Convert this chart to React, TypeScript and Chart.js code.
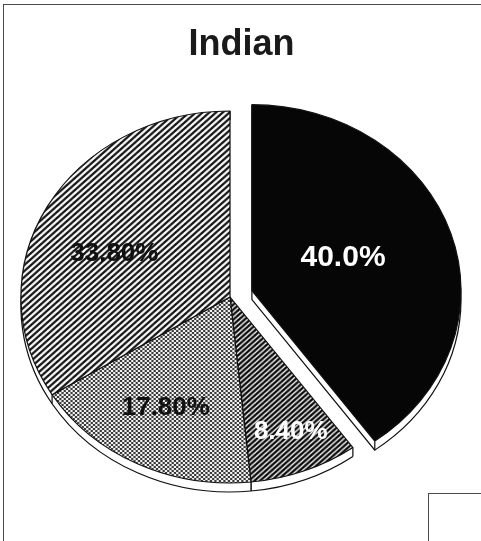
import React, { useEffect, useRef } from "react";
import { Chart, registerables } from "chart.js";

Chart.register(...registerables);

// ---- data ----
const chartTitle = "Indian";
const categories = ["Segment 1", "Segment 2", "Segment 3", "Segment 4"];
const shares = [40.0, 8.4, 17.8, 33.8];
const valueLabels = ["40.0%", "8.40%", "17.80%", "33.80%"];

// ---- styling config ----
const X_STRETCH = 1.124; // pie drawn as an ellipse (tilted look)
const DEPTH = 9; // 3D rim thickness
const EXPLODE_INDEX = 0;
const EXPLODE_DIST = 20.5;
const labelRadial = [0.47, 0.78, 0.67, 0.6];
const labelAngleShift = [-4, -1, 1, -6.4];
const labelFontSize = [30, 26, 26, 26];
const labelColors = ["#ffffff", "#ffffff", "#111111", "#111111"];

function makePattern(kind: string): CanvasPattern | string {
  const c = document.createElement("canvas");
  const g = c.getContext("2d");
  if (!g) return "#888";
  if (kind === "light") {
    const s = 6;
    c.width = s; c.height = s;
    g.fillStyle = "#ffffff"; g.fillRect(0, 0, s, s);
    g.strokeStyle = "#111111"; g.lineWidth = 2.1;
    g.beginPath();
    g.moveTo(-1, s + 1); g.lineTo(s + 1, -1);
    g.moveTo(-1, 1); g.lineTo(1, -1);
    g.moveTo(s - 1, s + 1); g.lineTo(s + 1, s - 1);
    g.stroke();
  } else if (kind === "dense") {
    const s = 5;
    c.width = s; c.height = s;
    g.fillStyle = "#0d0d0d"; g.fillRect(0, 0, s, s);
    g.strokeStyle = "#f2f2f2"; g.lineWidth = 1.3;
    g.beginPath();
    g.moveTo(-1, s + 1); g.lineTo(s + 1, -1);
    g.moveTo(-1, 1); g.lineTo(1, -1);
    g.moveTo(s - 1, s + 1); g.lineTo(s + 1, s - 1);
    g.stroke();
  } else {
    const s = 4;
    c.width = s; c.height = s;
    g.fillStyle = "#f2f2f2"; g.fillRect(0, 0, s, s);
    g.fillStyle = "#3a3a3a";
    g.fillRect(0, 0, 2, 2);
    g.fillRect(2, 2, 2, 2);
  }
  return g.createPattern(c, "repeat") || "#888";
}

function slicePath(ctx: CanvasRenderingContext2D, x: number, y: number, r: number, a0: number, a1: number) {
  ctx.beginPath();
  ctx.moveTo(x, y);
  ctx.arc(x, y, r, a0, a1);
  ctx.closePath();
}

export default function App() {
  const canvasRef = useRef<HTMLCanvasElement | null>(null);

  useEffect(() => {
    const canvas = canvasRef.current;
    if (!canvas) return;

    const fills = ["#060606", makePattern("dense"), makePattern("checker"), makePattern("light")];

    const pieCenter = (chart: any) => ({
      cx: (chart.chartArea.left + chart.chartArea.right) / 2,
      cy: (chart.chartArea.top + chart.chartArea.bottom) / 2,
    });

    const explodePlugin = {
      id: "explode",
      afterUpdate(chart: any) {
        const el = chart.getDatasetMeta(0).data[EXPLODE_INDEX];
        if (!el) return;
        const mid = (el.startAngle + el.endAngle) / 2;
        el.x += Math.cos(mid) * EXPLODE_DIST;
        el.y += Math.sin(mid) * EXPLODE_DIST;
      },
    };

    const depthPlugin = {
      id: "depth",
      beforeDatasetsDraw(chart: any) {
        const ctx: CanvasRenderingContext2D = chart.ctx;
        const { cx, cy } = pieCenter(chart);
        ctx.save();
        ctx.translate(cx, cy);
        ctx.scale(X_STRETCH, 1);
        ctx.translate(-cx, -cy);
        const els = chart.getDatasetMeta(0).data;
        els.forEach((el: any, i: number) => {
          const { x, y, startAngle, endAngle, outerRadius } = el;
          ctx.fillStyle = "#ffffff";
          for (let d = DEPTH; d >= 1; d--) {
            slicePath(ctx, x, y + d, outerRadius, startAngle, endAngle);
            ctx.fill();
          }
          ctx.strokeStyle = "#111111";
          ctx.lineWidth = 1.1;
          if (i === EXPLODE_INDEX) {
            slicePath(ctx, x, y + DEPTH, outerRadius, startAngle, endAngle);
            ctx.stroke();
          } else {
            ctx.beginPath();
            ctx.arc(x, y + DEPTH, outerRadius, startAngle, endAngle);
            ctx.stroke();
          }
          ctx.beginPath();
          for (const a of [startAngle, endAngle]) {
            const px = x + Math.cos(a) * outerRadius;
            const py = y + Math.sin(a) * outerRadius;
            ctx.moveTo(px, py);
            ctx.lineTo(px, py + DEPTH);
          }
          ctx.stroke();
        });
      },
      afterDatasetsDraw(chart: any) {
        chart.ctx.restore();
      },
    };

    const labelPlugin = {
      id: "sliceLabels",
      afterDraw(chart: any) {
        const ctx: CanvasRenderingContext2D = chart.ctx;
        const { cx } = pieCenter(chart);
        const els = chart.getDatasetMeta(0).data;
        ctx.save();
        ctx.textAlign = "center";
        ctx.textBaseline = "middle";
        els.forEach((el: any, i: number) => {
          const mid = (el.startAngle + el.endAngle) / 2 + (labelAngleShift[i] * Math.PI) / 180;
          const r = el.outerRadius * labelRadial[i];
          const ux = el.x + Math.cos(mid) * r;
          const uy = el.y + Math.sin(mid) * r;
          const px = cx + (ux - cx) * X_STRETCH;
          ctx.font = `bold ${labelFontSize[i]}px "Liberation Sans", Arial, sans-serif`;
          ctx.fillStyle = labelColors[i];
          ctx.fillText(valueLabels[i], px, uy);
        });
        ctx.restore();
      },
    };

    const chart = new Chart(canvas, {
      type: "pie",
      data: {
        labels: categories,
        datasets: [
          {
            data: shares,
            backgroundColor: fills as any,
            borderColor: "#111111",
            borderWidth: 1.1,
            clip: false as any,
          } as any,
        ],
      },
      options: {
        responsive: false,
        animation: false,
        events: [],
        radius: 186,
        rotation: 0,
        layout: { padding: { left: 0, right: 21, top: 53, bottom: 0 } },
        plugins: {
          legend: { display: false },
          tooltip: { enabled: false },
          title: { display: false },
        },
      } as any,
      plugins: [explodePlugin, depthPlugin, labelPlugin],
    });

    return () => chart.destroy();
  }, []);

  return (
    <div
      style={{
        position: "fixed",
        left: 0,
        top: 0,
        width: 481,
        height: 541,
        overflow: "hidden",
        background: "#ffffff",
      }}
    >
      <div
        style={{
          position: "absolute",
          left: 3,
          top: 4,
          width: 520,
          height: 600,
          border: "1.5px solid #4a4a4a",
          boxSizing: "border-box",
        }}
      />
      <div
        style={{
          position: "absolute",
          left: 428,
          top: 493,
          width: 100,
          height: 100,
          border: "1.5px solid #4a4a4a",
          boxSizing: "border-box",
        }}
      />
      <canvas
        ref={canvasRef}
        width={481}
        height={541}
        style={{ position: "absolute", left: 0, top: 0, width: 481, height: 541 }}
      />
      <div
        style={{
          position: "absolute",
          left: 0,
          top: 25,
          width: 483,
          textAlign: "center",
          font: 'bold 36px/36px "Liberation Sans", Arial, sans-serif',
          color: "#1a1a1a",
          whiteSpace: "nowrap",
        }}
      >
        {chartTitle}
      </div>
    </div>
  );
}
